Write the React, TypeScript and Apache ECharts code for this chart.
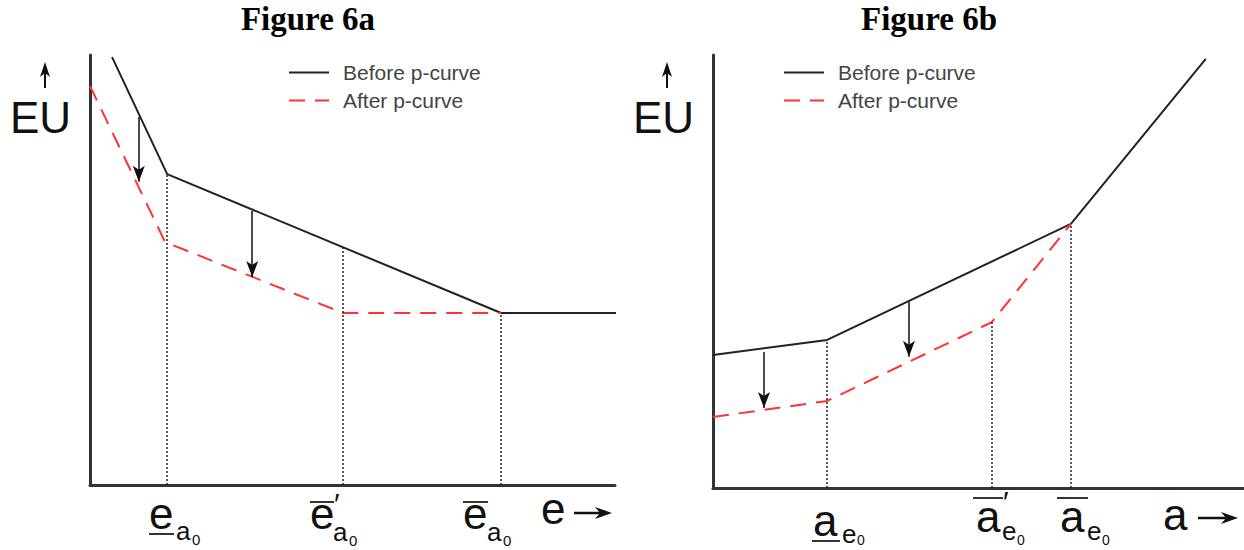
import React, { useEffect, useRef } from "react";
import * as echarts from "echarts";

// Figure 6a (effort e on x, EU on y), axis units 0..100
const beforeA: number[][] = [[4.2, 99.5], [14.7, 72.3], [78.3, 40], [101.3, 40]];
const afterA: number[][] = [[0, 92.8], [14.3, 56.5], [48.2, 40], [78.3, 40]];
const guidesA: number[][] = [[14.7, 72.3], [48.2, 55.3], [78.3, 40]];
const arrowsA: number[][] = [[9.3, 85.6, 70.5], [30.9, 63.7, 48.4]];

// Figure 6b (ability a on x, EU on y)
const beforeB: number[][] = [[0, 30.7], [21.5, 34.2], [67.4, 61], [92.8, 99.1]];
const afterB: number[][] = [[0, 16.4], [21.5, 20.1], [52.5, 38.3], [67.4, 61]];
const guidesB: number[][] = [[21.5, 34.2], [52.5, 38.3], [67.4, 61]];
const arrowsB: number[][] = [[9.6, 31.4, 18.5], [36.9, 43, 30.3]];

const seriesNames = ["Before p-curve", "After p-curve"];
const titles = ["Figure 6a", "Figure 6b"];

const SANS = "'Liberation Sans', Arial, sans-serif";
const SERIF = "'Liberation Serif', 'Times New Roman', serif";

function txt(x: number, baseline: number, s: string, size: number, extra: any = {}) {
  return {
    type: "text",
    x,
    y: baseline - 0.3465 * size,
    style: {
      text: s,
      fontSize: size,
      fontFamily: SANS,
      fill: "#111",
      verticalAlign: "middle",
      align: "left",
      ...extra,
    },
    silent: true,
  };
}

function bar(x1: number, x2: number, y: number) {
  return {
    type: "line",
    shape: { x1, y1: y, x2, y2: y },
    style: { stroke: "#333", lineWidth: 2 },
    silent: true,
  };
}

function upArrow(x: number, top: number, bottom: number) {
  return [
    { type: "line", shape: { x1: x, y1: bottom, x2: x, y2: top + 8 }, style: { stroke: "#111", lineWidth: 2 }, silent: true },
    {
      type: "polygon",
      shape: { points: [[x, top], [x - 5, top + 15], [x, top + 11], [x + 5, top + 15]] },
      style: { fill: "#111" },
      silent: true,
    },
  ];
}

function rightArrow(x1: number, x2: number, y: number) {
  return [
    { type: "line", shape: { x1, y1: y, x2: x2 - 8, y2: y }, style: { stroke: "#111", lineWidth: 2.5 }, silent: true },
    {
      type: "polygon",
      shape: { points: [[x2, y], [x2 - 17, y - 6], [x2 - 12, y], [x2 - 17, y + 6]] },
      style: { fill: "#111" },
      silent: true,
    },
  ];
}

function guideSeries(pts: number[][], idx: number) {
  return {
    type: "line",
    xAxisIndex: idx,
    yAxisIndex: idx,
    data: [],
    silent: true,
    markLine: {
      silent: true,
      animation: false,
      symbol: ["none", "none"],
      label: { show: false },
      lineStyle: { color: "#222", width: 1.5, type: [2, 2] },
      emphasis: { disabled: true },
      data: pts.map(([x, y]) => [{ coord: [x, 0] }, { coord: [x, y] }]),
    },
  };
}

function arrowSeries(pts: number[][], idx: number) {
  return {
    type: "line",
    xAxisIndex: idx,
    yAxisIndex: idx,
    data: [],
    silent: true,
    markLine: {
      silent: true,
      animation: false,
      symbol: ["none", "arrow"],
      symbolSize: [9, 16],
      label: { show: false },
      lineStyle: { color: "#111", width: 1.5, type: "solid" },
      emphasis: { disabled: true },
      data: pts.map(([x, y1, y2]) => [{ coord: [x, y1] }, { coord: [x, y2] }]),
    },
  };
}

const lineBase = { type: "line", symbol: "none", showSymbol: false, clip: false, silent: true };
const blackStyle = { color: "#222", width: 2, type: "solid" };
const redStyle = { color: "#ff3333", width: 2, type: [16, 10] };

function axisCommon() {
  return {
    type: "value",
    min: 0,
    max: 100,
    axisLine: { show: true, onZero: false, lineStyle: { color: "#333", width: 3 } },
    axisTick: { show: false },
    axisLabel: { show: false },
    splitLine: { show: false },
  };
}

function legendAt(left: number) {
  return {
    left,
    top: 57,
    orient: "vertical",
    itemWidth: 40,
    itemHeight: 14,
    itemGap: 7,
    selectedMode: false,
    data: seriesNames,
    itemStyle: { opacity: 0 },
    textStyle: { fontSize: 21, color: "#444", fontFamily: SANS, padding: [0, 0, 0, 9] },
  };
}

export default function App() {
  const ref = useRef<HTMLDivElement>(null);
  useEffect(() => {
    document.body.style.margin = "0";
    if (!ref.current) return;
    const chart = echarts.init(ref.current, null, { renderer: "svg" });
    const graphic: any[] = [
      { type: "text", x: 308, y: 19, style: { text: titles[0], fontSize: 33, fontWeight: "bold", fontFamily: SERIF, fill: "#000", align: "center", verticalAlign: "middle" }, silent: true },
      { type: "text", x: 929, y: 19, style: { text: titles[1], fontSize: 33, fontWeight: "bold", fontFamily: SERIF, fill: "#000", align: "center", verticalAlign: "middle" }, silent: true },
      // EU labels
      txt(10, 133, "EU", 44),
      txt(633, 133, "EU", 44),
      ...upArrow(45, 62, 88),
      ...upArrow(667, 62, 88),
      // 6a x labels
      txt(149, 529, "e", 44),
      bar(149, 174, 534),
      txt(176, 540, "a", 26),
      txt(192, 545, "0", 15),
      txt(310, 529, "e", 44),
      bar(310, 334, 502),
      txt(334, 514, "\u2032", 30),
      txt(333, 541, "a", 26),
      txt(349, 546, "0", 15),
      txt(463, 529, "e", 44),
      bar(463, 488, 502),
      txt(487, 541, "a", 26),
      txt(503, 546, "0", 15),
      txt(541, 524, "e", 44),
      ...rightArrow(574, 612, 513),
      // 6b x labels
      txt(813, 536, "a", 44),
      bar(812, 840, 541),
      txt(842, 543, "e", 26),
      txt(857, 545, "0", 14),
      txt(976, 532, "a", 44),
      bar(973, 1003, 498),
      txt(1003, 512, "\u2032", 30),
      txt(1002, 540, "e", 26),
      txt(1017, 545, "0", 14),
      txt(1060, 532, "a", 44),
      bar(1057, 1088, 498),
      txt(1087, 540, "e", 26),
      txt(1102, 545, "0", 14),
      txt(1163, 530, "a", 44),
      ...rightArrow(1198, 1238, 518),
    ];
    chart.setOption({
      animation: false,
      grid: [
        { left: 90, top: 55, width: 525, height: 430 },
        { left: 713, top: 55, width: 531, height: 433 },
      ],
      xAxis: [{ ...axisCommon(), gridIndex: 0 }, { ...axisCommon(), gridIndex: 1 }],
      yAxis: [{ ...axisCommon(), gridIndex: 0 }, { ...axisCommon(), gridIndex: 1 }],
      legend: [legendAt(283), legendAt(778)],
      series: [
        guideSeries(guidesA, 0),
        guideSeries(guidesB, 1),
        { ...lineBase, name: seriesNames[0], xAxisIndex: 0, yAxisIndex: 0, data: beforeA, color: "#222", lineStyle: blackStyle },
        { ...lineBase, name: seriesNames[1], xAxisIndex: 0, yAxisIndex: 0, data: afterA, color: "#ff3333", lineStyle: redStyle },
        { ...lineBase, name: seriesNames[0], xAxisIndex: 1, yAxisIndex: 1, data: beforeB, color: "#222", lineStyle: blackStyle },
        { ...lineBase, name: seriesNames[1], xAxisIndex: 1, yAxisIndex: 1, data: afterB, color: "#ff3333", lineStyle: redStyle },
        arrowSeries(arrowsA, 0),
        arrowSeries(arrowsB, 1),
      ],
      graphic,
    });
    return () => chart.dispose();
  }, []);
  return <div ref={ref} style={{ width: 1244, height: 550 }} />;
}
